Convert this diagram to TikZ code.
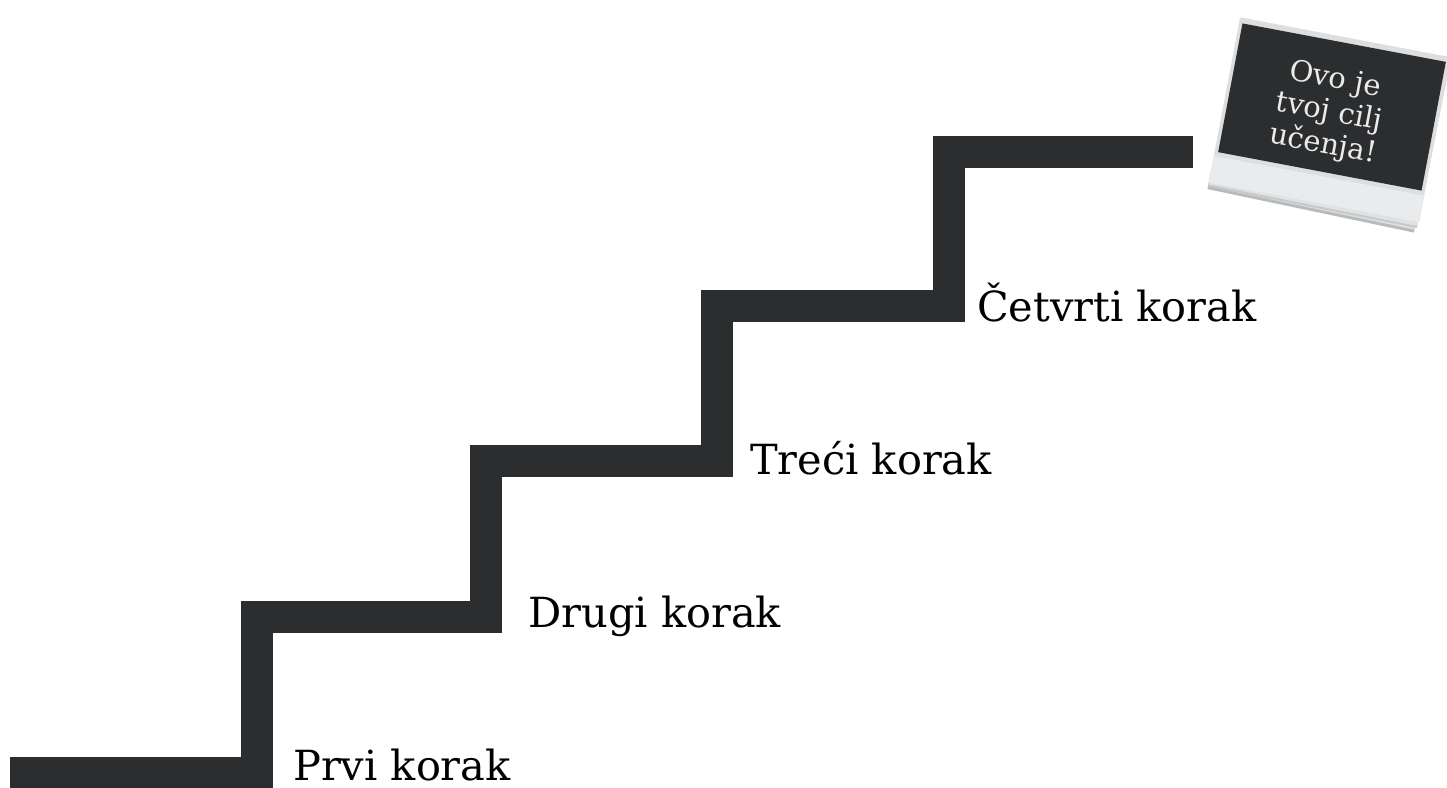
\documentclass[tikz,border=0pt]{standalone}
\usepackage{fontspec}
\setmainfont{DejaVu Serif}
\definecolor{stair}{HTML}{2B2D2F}
\definecolor{frameg}{HTML}{DCDEDF}
\definecolor{stackg}{HTML}{B8BBBD}
\begin{document}
\begin{tikzpicture}[x=1pt,y=-1pt,
  stairline/.style={draw=stair,line width=32pt,miter limit=10,line join=miter,line cap=butt},
  steplabel/.style={anchor=base west,inner sep=0pt,font=\fontsize{41.5}{44}\selectfont,text=black},
  cardtext/.style={align=center,inner sep=0pt,text=white!92!black,font=\fontsize{29}{33}\selectfont}]
\useasboundingbox (0,0) rectangle (1447,787);
\clip (0,0) rectangle (1447,787);
\fill[white] (0,0) rectangle (1447,787);
% staircase corners
\coordinate (s0) at (10,773);
\coordinate (s1) at (257,773);
\coordinate (s2) at (257,617);
\coordinate (s3) at (486,617);
\coordinate (s4) at (486,461);
\coordinate (s5) at (717,461);
\coordinate (s6) at (717,306);
\coordinate (s7) at (949,306);
\coordinate (s8) at (949,152);
\coordinate (s9) at (1193,152);
\draw[stairline] (s0) -- (s1) -- (s2) -- (s3) -- (s4) -- (s5) -- (s6) -- (s7) -- (s8) -- (s9);
% labels
\node[steplabel] (l1) at (293,780) {Prvi korak};
\node[steplabel] (l2) at (528,627) {Drugi korak};
\node[steplabel] (l3) at (750,474) {Treći korak};
\node[steplabel] (l4) at (977,321) {Četvrti korak};
% card
\begin{scope}[shift={(1332,107)},rotate=-10.7]
  \begin{scope}[rotate=-1.2]
    \fill[stackg] (-105,-66) rectangle (106,106);
    \fill[frameg] (-105,-68) rectangle (106,103);
  \end{scope}
  \begin{scope}[rotate=-0.6]
    \fill[stackg!80] (-106,-68) rectangle (107,102);
    \fill[frameg!90!white] (-106,-70) rectangle (107,100);
  \end{scope}
  \fill[frameg] (-107,-71) rectangle (107,97);
  \fill[frameg!60!white] (-107,70) rectangle (107,97);
  \fill[stair] (-103.5,-65.5) rectangle (103.5,65.5);
\end{scope}
\node[cardtext,rotate=-10.7] (goal) at (1329,113) {Ovo je\\tvoj cilj\\učenja!};
\end{tikzpicture}
\end{document}
